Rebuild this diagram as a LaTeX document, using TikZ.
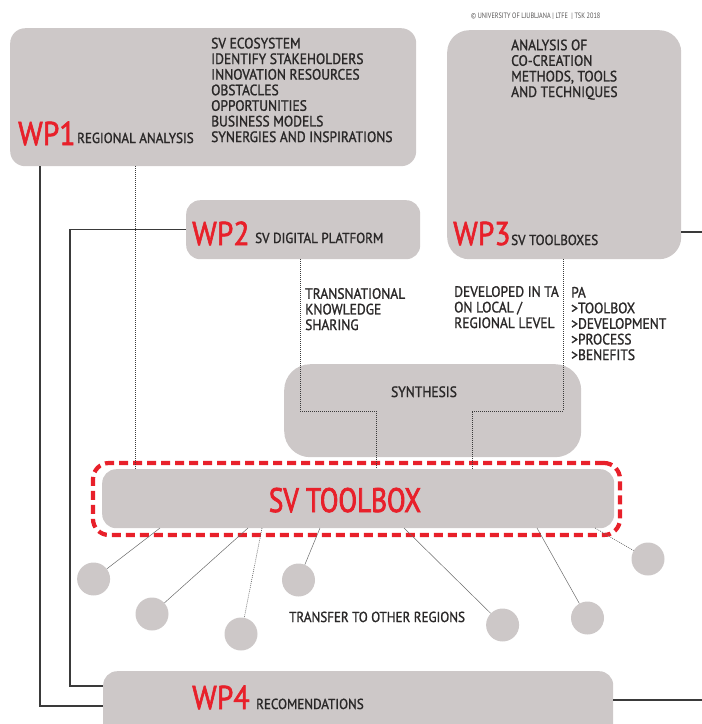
\documentclass[tikz,border=0pt]{standalone}
\usepackage{fontspec}
\newfontfamily\cond{PT Sans}[FakeStretch=0.9, FakeBold=1.3]
\newfontfamily\tagfont{PT Sans}[FakeStretch=0.9, FakeBold=1.8]
\newfontfamily\narrow{PT Sans}[FakeStretch=0.8, FakeBold=2.2]
\newfontfamily\notefont{PT Sans}[FakeStretch=0.8]
\definecolor{boxgray}{HTML}{CDC8C8}
\definecolor{wpred}{HTML}{E8202A}
\definecolor{ink}{HTML}{2A2828}
\definecolor{wirecol}{HTML}{3A3A3A}
\definecolor{spokecol}{HTML}{6A6A6A}
\begin{document}
\begin{tikzpicture}[x=1pt,y=-1pt,
  box/.style={fill=boxgray, draw=none, inner sep=0pt, anchor=north west, rounded corners=15pt},
  txt/.style={font=\cond\fontsize{15}{15.6}\selectfont, text=ink, inner sep=0pt, anchor=base west, align=left},
  wptag/.style={font=\tagfont\fontsize{33}{33}\selectfont, text=wpred, inner sep=0pt, anchor=base west},
  wire/.style={draw=wirecol, line width=1.3pt},
  dots/.style={draw=wirecol, line width=0.7pt, dash pattern=on 0.9pt off 1.1pt},
  spoke/.style={draw=spokecol, line width=0.5pt},
  spokedots/.style={draw=spokecol, line width=0.7pt, dash pattern=on 0.9pt off 1.1pt},
  region/.style={circle, fill=boxgray, minimum size=33pt, inner sep=0pt},
  redframe/.style={draw=wpred, line width=4.2pt, dash pattern=on 9pt off 5pt, rounded corners=16pt, minimum width=527pt, minimum height=72pt, inner sep=0pt}
]
\useasboundingbox (0,0) rectangle (702,724);

% work-package boxes
\node (wp1) [box, minimum width=406pt, minimum height=138pt] at (10,28) {};
\node (wp3) [box, rounded corners=22pt, minimum width=234pt, minimum height=229pt] at (447,30) {};
\node (wp2) [box, rounded corners=14pt, minimum width=234pt, minimum height=59pt] at (186,200) {};
\node (syn) [box, rounded corners=26pt, minimum width=297pt, minimum height=93pt] at (284,364) {};
\node (tb)  [box, rounded corners=14pt, minimum width=512pt, minimum height=59pt] at (102,469) {};
\node (wp4) [box, rounded corners=14pt, minimum width=510pt, minimum height=72pt] at (103,671) {};

% red dashed frame round the toolbox
\node (tbframe) [redframe] at (356.5,499) {};

% header note
\node (copy) [txt, font=\notefont\fontsize{7.8}{8}\selectfont, text=ink!80] at (471,18) {© UNIVERSITY OF LJUBLJANA | LTFE \ | TSK 2018};

% WP1 (multi-line texts are placed by the baseline of their last line)
\node (wp1tag) [wptag] at (18,145) {WP1};
\node (wp1name) [txt, font=\cond\fontsize{14.5}{15}\selectfont] at (77,143) {REGIONAL ANALYSIS};
\node (wp1list) [txt] at (211,142) {SV ECOSYSTEM\\IDENTIFY STAKEHOLDERS\\INNOVATION RESOURCES\\OBSTACLES\\OPPORTUNITIES\\BUSINESS MODELS\\SYNERGIES AND INSPIRATIONS};

% WP2
\node (wp2tag) [wptag] at (192,245) {WP2};
\node (wp2name) [txt, font=\cond\fontsize{14.5}{15}\selectfont] at (255,243) {SV DIGITAL PLATFORM};

% WP3
\node (wp3tag) [wptag] at (453,245) {WP3};
\node (wp3name) [txt, font=\cond\fontsize{14.5}{15}\selectfont] at (511,245) {SV TOOLBOXES};
\node (wp3list) [txt] at (511,97) {ANALYSIS OF\\CO-CREATION\\METHODS, TOOLS\\AND TECHNIQUES};

% WP4
\node (wp4tag) [wptag] at (192,709) {WP4};
\node (wp4name) [txt, font=\cond\fontsize{14.5}{15}\selectfont] at (256,709) {RECOMENDATIONS};

% notes along the flows
\node (knote) [txt] at (305,330) {TRANSNATIONAL\\KNOWLEDGE\\SHARING};
\node (dnote) [txt] at (454,328) {DEVELOPED IN TA\\ON LOCAL /\\REGIONAL LEVEL};
\node (pnote) [txt] at (571,360) {PA\\>TOOLBOX\\>DEVELOPMENT\\>PROCESS\\>BENEFITS};
\node (syntxt) [txt, anchor=base] at (424,397) {SYNTHESIS};
\node (tbtxt) [wptag, font=\narrow\fontsize{34}{34}\selectfont, anchor=base] at (345,512) {SV TOOLBOX};
\node (trnote) [txt, font=\cond\fontsize{14.5}{15}\selectfont] at (289,622) {TRANSFER TO OTHER REGIONS};

% solid links to WP4 and off the right edge
\coordinate (l1) at (40,706);
\coordinate (l2) at (70,686);
\coordinate (e3) at (702,232);
\coordinate (e4) at (702,700);
\draw[wire] (wp1.south -| l1) -- (l1) -- (l1 -| wp4.west);
\draw[wire] (wp2.west) -| (l2) -- (l2 -| wp4.west);
\draw[wire] (e3 -| wp3.east) -- (e3);
\draw[wire] (e4 -| wp4.east) -- (e4);

% dotted flows into the toolbox
\coordinate (d1) at (135,300);
\coordinate (d2a) at (300,411);
\coordinate (d2b) at (376,411);
\coordinate (d3a) at (563,411);
\coordinate (d3b) at (472,411);
\draw[dots] (d1 |- wp1.south) -- (d1 |- tb.north);
\draw[dots] (d2a |- wp2.south) -- (d2a) -- (d2b) -- (d2b |- tb.north);
\draw[dots] (d3a |- wp3.south) -- (d3a) -- (d3b) -- (d3b |- tb.north);

% regions receiving the toolbox
\node (r1) [region] at (93.6,579) {};
\node (r2) [region] at (152,614) {};
\node (r3) [region] at (241,634) {};
\node (r4) [region] at (298.5,580) {};
\node (r5) [region] at (502.6,625) {};
\node (r6) [region] at (587.5,618) {};
\node (r7) [region] at (648,559) {};
\coordinate (s1) at (160,528);
\coordinate (s2) at (248,528);
\coordinate (s3) at (262,528);
\coordinate (s4) at (320,528);
\coordinate (s5) at (404,528);
\coordinate (s6) at (537,528);
\coordinate (s7) at (595,528);
\draw[spoke] (s1) -- (r1);
\draw[spoke] (s2) -- (r2);
\draw[spokedots] (s3) -- (r3);
\draw[spoke] (s4) -- (r4);
\draw[spoke] (s5) -- (r5);
\draw[spoke] (s6) -- (r6);
\draw[spokedots] (s7) -- (r7);
\end{tikzpicture}
\end{document}
